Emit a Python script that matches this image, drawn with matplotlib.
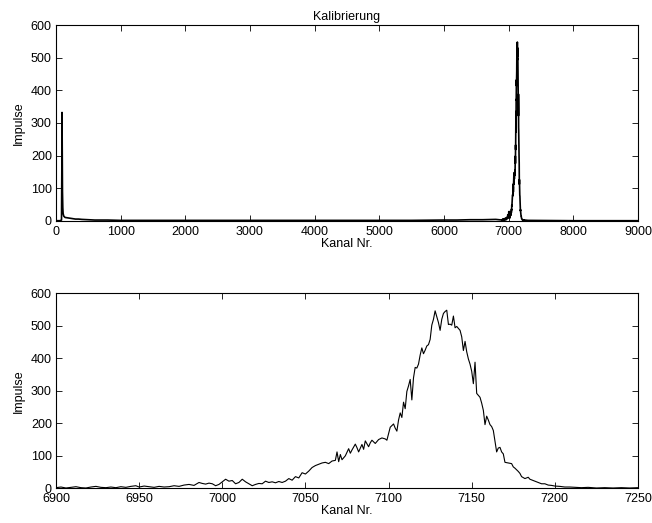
import matplotlib
matplotlib.use("Agg")
import matplotlib.pyplot as plt
import numpy as np

plt.rcParams['font.family'] = ['Liberation Sans', 'DejaVu Sans']
plt.rcParams['font.size'] = 9

# detail region, channel 6900..7250
peak_ch = [6900, 6903, 6906, 6909, 6912, 6915, 6918, 6921, 6924, 6927, 6930, 6933, 6936, 6939,
           6942, 6945, 6948, 6950, 6953, 6956, 6959, 6962, 6965, 6968, 6971, 6974, 6977, 6980,
           6983, 6986, 6988, 6990, 6992, 6994, 6996, 6998, 7000, 7002, 7004, 7006, 7008, 7010,
           7012, 7014, 7016, 7018, 7020, 7022, 7024, 7026, 7028, 7030, 7032, 7034, 7036, 7038,
           7040, 7042, 7044, 7046, 7048, 7050, 7052, 7054, 7056, 7058, 7060, 7062, 7064, 7066,
           7068, 7069, 7070, 7071, 7072, 7074, 7076, 7077, 7078, 7080, 7081, 7082, 7084, 7085,
           7086, 7088, 7089, 7090, 7092, 7094, 7096, 7098, 7099, 7101, 7103, 7104, 7105, 7106,
           7107, 7108, 7109, 7110, 7111, 7112, 7113, 7114, 7115, 7116, 7117, 7118, 7119, 7120,
           7121, 7122, 7123, 7124, 7125, 7126, 7127, 7128, 7129, 7130, 7131, 7132, 7133, 7134,
           7135, 7136, 7137, 7138, 7139, 7140, 7141, 7142, 7143, 7144, 7145, 7146, 7147, 7148,
           7149, 7150, 7151, 7152, 7153, 7154, 7155, 7156, 7157, 7158, 7159, 7160, 7161, 7162,
           7163, 7164, 7165, 7166, 7167, 7168, 7169, 7170, 7172, 7174, 7175, 7176, 7178, 7179,
           7180, 7182, 7184, 7185, 7186, 7188, 7190, 7192, 7194, 7196, 7198, 7200, 7203, 7206,
           7209, 7212, 7216, 7220, 7225, 7230, 7235, 7240, 7245, 7250]
peak_cnt = [2, 4, 1, 3, 5, 2, 1, 4, 6, 3, 2, 4, 2, 5,
            3, 6, 8, 4, 7, 5, 3, 6, 4, 5, 8, 6, 10, 12,
            9, 18, 15, 13, 16, 14, 8, 12, 20, 28, 22, 24, 14, 18,
            28, 20, 14, 8, 12, 15, 14, 22, 18, 20, 17, 21, 18, 22,
            30, 25, 36, 32, 48, 44, 53, 64, 70, 74, 78, 80, 76, 84,
            86, 112, 82, 104, 88, 100, 122, 108, 118, 136, 125, 112, 135, 120,
            146, 128, 140, 148, 138, 150, 155, 152, 148, 188, 198, 185, 176, 210,
            232, 218, 265, 245, 298, 315, 335, 272, 340, 372, 370, 382, 410, 432,
            414, 425, 438, 442, 458, 502, 520, 546, 528, 510, 486, 520, 538, 544,
            548, 504, 505, 502, 530, 494, 498, 492, 486, 466, 424, 452, 420, 398,
            382, 360, 322, 388, 292, 286, 280, 262, 240, 196, 222, 210, 196, 190,
            178, 146, 112, 124, 126, 112, 106, 80, 78, 76, 66, 62, 52, 46,
            36, 30, 34, 28, 26, 22, 18, 14, 14, 10, 9, 7, 6, 4,
            4, 3, 2, 3, 1, 2, 1, 2, 1, 2]

# rest of the spectrum
low_ch = [0, 60, 85, 90, 93, 96, 100, 105, 110, 120, 140, 170, 200, 250, 300, 350, 400,
          500, 600, 800, 1000, 1500, 2000, 3000, 4000, 5000, 5500, 6000, 6200, 6400, 6600, 6800]
low_cnt = [0, 0, 2, 150, 332, 200, 90, 40, 22, 14, 10, 9, 8, 6, 5, 5, 4,
           3, 2, 2, 1, 1, 1, 1, 1, 1, 1, 2, 2, 3, 3, 4]
high_ch = [7300, 8000, 9000]
high_cnt = [1, 0, 0]

all_ch = low_ch + peak_ch + high_ch
all_cnt = low_cnt + peak_cnt + high_cnt

fig = plt.figure(figsize=(6.52, 5.23), dpi=100)
ax1 = fig.add_axes([0.0859, 0.578, 0.8926, 0.374])
ax2 = fig.add_axes([0.0859, 0.0663, 0.8926, 0.3729])

ax1.plot(all_ch, all_cnt, color='black', lw=1.2)
ax1.set_xlim(0, 9000)
ax1.set_ylim(0, 600)
ax1.set_xticks(np.arange(0, 9001, 1000))
ax1.set_yticks(np.arange(0, 601, 100))
ax1.set_title("Kalibrierung", fontsize=9, pad=4)

ax2.plot(peak_ch, peak_cnt, color='black', lw=0.8)
ax2.set_xlim(6900, 7250)
ax2.set_ylim(0, 600)
ax2.set_xticks(np.arange(6900, 7251, 50))
ax2.set_yticks(np.arange(0, 601, 100))

for ax in (ax1, ax2):
    ax.set_xlabel("Kanal Nr.", labelpad=0)
    ax.set_ylabel("Impulse", labelpad=4)
    ax.tick_params(direction='in', length=4, width=0.6, top=True, right=True)
    ax.tick_params(axis='x', pad=3.5)
    ax.tick_params(axis='y', pad=3)
    for s in ax.spines.values():
        s.set_linewidth(0.8)

fig.savefig("out.png", dpi=100)
